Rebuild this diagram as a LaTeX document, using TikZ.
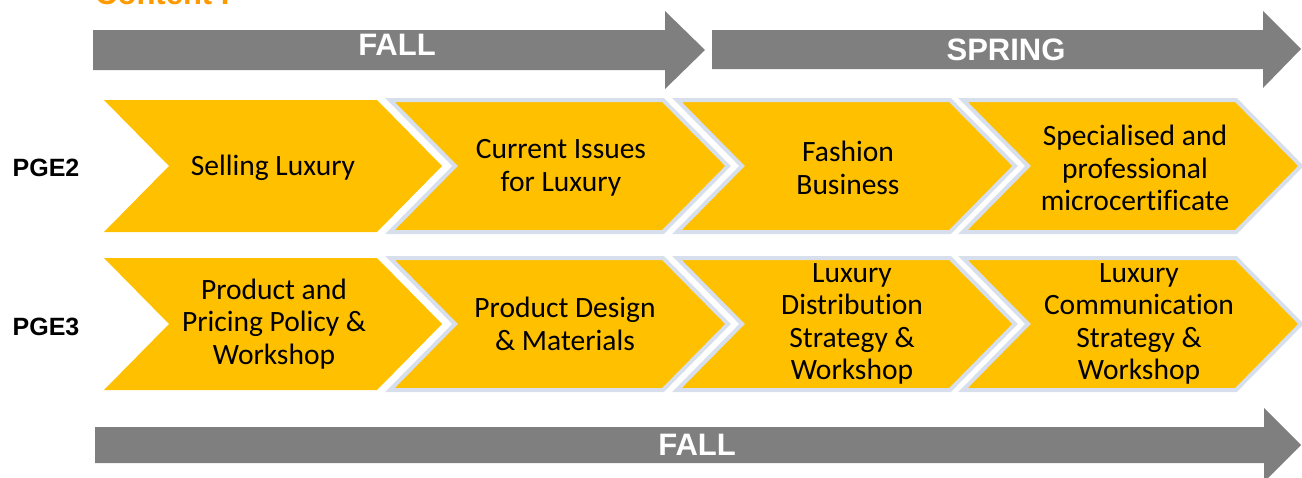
\documentclass[tikz,border=0pt]{standalone}
\usepackage{fontspec}
\setmainfont{Carlito}[Ligatures=NoCommon]
\newfontfamily\headfont{Liberation Sans}
\usetikzlibrary{positioning}

\definecolor{luxgold}{RGB}{255,192,0}
\definecolor{bargray}{RGB}{127,127,127}
\definecolor{edgeblue}{RGB}{214,223,235}
\definecolor{titleorange}{RGB}{255,153,0}

\tikzset{
  chev/.style={fill=luxgold, draw=none},
  chevedge/.style={fill=luxgold, draw=edgeblue, line width=4pt, line join=miter},
  bar/.style={fill=bargray},
  bartext/.style={text=white, font=\headfont\bfseries\fontsize{31}{36}\selectfont},
  course/.style={align=center, font=\fontsize{29.5}{32.4}\selectfont},
  rowlabel/.style={font=\headfont\bfseries\fontsize{25}{30}\selectfont}
}

% chevron: style, left x, top y
\newcommand{\chevron}[3]{%
  \draw[#1] (#2,#3) -- ++(273,0) -- ++(65,66) -- ++(-65,66) -- ++(-273,0) -- ++(65,-66) -- cycle;}

\begin{document}
\begin{tikzpicture}[x=1pt,y=-1pt]
	\useasboundingbox (0,0) rectangle (1302,477);
	\node[anchor=base west, text=titleorange, font=\headfont\bfseries\fontsize{31}{36}\selectfont, inner sep=0pt] (title) at (95,4) {Content I};
	% semester bars
	\fill[bar] (93,30) -- (665,30) -- (665,11) -- (705,50) -- (665,89) -- (665,70) -- (93,70) -- cycle;
	\node[bartext] (fall1) at (397,45) {FALL};
	\fill[bar] (712,30) -- (1263,30) -- (1263,11) -- (1301,49) -- (1263,88) -- (1263,69) -- (712,69) -- cycle;
	\node[bartext] (spring) at (1006,50) {SPRING};
	\fill[bar] (95,427) -- (1264,427) -- (1264,408) -- (1301,445) -- (1264,482) -- (1264,463) -- (95,463) -- cycle;
	\node[bartext] (fall2) at (697,445) {FALL};
	% PGE2 row
	\chevron{chev}{104}{100}
	\chevron{chevedge}{390}{100}
	\chevron{chevedge}{677}{100}
	\chevron{chevedge}{963}{100}
	\node[rowlabel] (pge2) at (46,168) {PGE2};
	\node[course] (selling) at (273,168) {Selling Luxury};
	\node[course] (issues) at (561,168) {Current Issues\\for Luxury};
	\node[course] (fashion) at (848,168) {Fashion\\Business};
	\node[course] (micro) at (1135,168) {Specialised and\\professional\\microcertificate};
	% PGE3 row
	\chevron{chev}{104}{258}
	\chevron{chevedge}{390}{258}
	\chevron{chevedge}{677}{258}
	\chevron{chevedge}{963}{258}
	\node[rowlabel] (pge3) at (46,327) {PGE3};
	\node[course] (pricing) at (274,324) {Product and\\Pricing Policy \&\\Workshop};
	\node[course] (design) at (565,324) {Product Design\\\& Materials};
	\node[course] (distrib) at (852,324) {Luxury\\Distribution\\Strategy \&\\Workshop};
	\node[course] (comm) at (1139,324) {Luxury\\Communication\\Strategy \&\\Workshop};
\end{tikzpicture}
\end{document}
